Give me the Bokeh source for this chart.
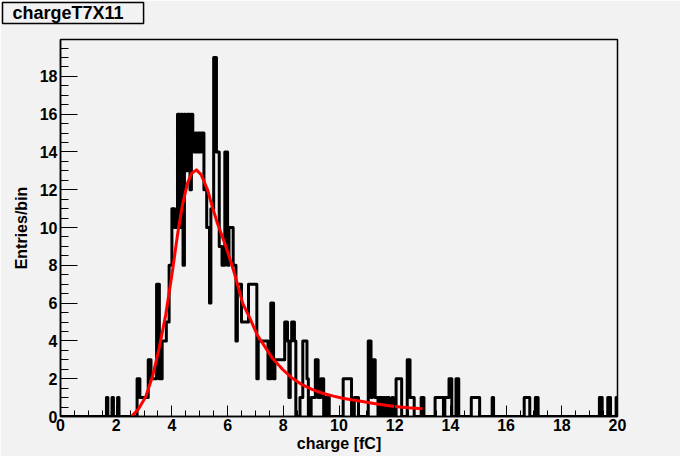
import re
import numpy as np
from bokeh.plotting import figure
from bokeh.models import Range1d, FixedTicker, Title
from bokeh.embed import file_html
from bokeh.resources import INLINE

# ---------------- data ----------------
title_text = "chargeT7X11"
x_title = "charge [fC]"
y_title = "Entries/bin"

x_lo, x_hi = 0.0, 20.0
y_lo, y_hi = 0.0, 19.95
bin_width = 0.05

# left edges of the non-empty bins and their entries (all other bins are 0)
bin_left = [
    1.65, 1.85, 2.05,
    2.75, 2.80, 2.85, 2.90, 2.95, 3.00, 3.05, 3.10, 3.15, 3.20,
    3.25, 3.30, 3.35, 3.40, 3.45, 3.50, 3.55, 3.60, 3.65, 3.70, 3.75,
    3.80, 3.85, 3.90, 3.95, 4.00, 4.05, 4.10, 4.15,
    4.20, 4.25, 4.30, 4.35, 4.40, 4.45, 4.50, 4.55, 4.60, 4.65, 4.70,
    4.75, 4.80, 4.85, 4.90, 4.95, 5.00, 5.05, 5.10,
    5.15, 5.20, 5.25, 5.30, 5.35, 5.40, 5.45, 5.50, 5.55,
    5.60, 5.65, 5.70, 5.75, 5.80, 5.85, 5.90, 5.95, 6.00,
    6.05, 6.10, 6.15, 6.20, 6.25, 6.30, 6.35, 6.40, 6.45,
    6.50, 6.55, 6.60, 6.65, 6.70, 6.75, 6.80, 6.85, 6.90, 6.95, 7.00,
    7.05, 7.10, 7.15, 7.20, 7.25, 7.30, 7.35, 7.40, 7.45, 7.50,
    7.55, 7.60, 7.65, 7.70, 7.75, 7.80, 7.85, 7.90, 7.95, 8.00,
    8.05, 8.10, 8.15, 8.20, 8.25, 8.30, 8.35, 8.40,
    8.60, 8.65, 8.70, 8.75, 8.80, 8.85,
    9.00, 9.05, 9.10, 9.15, 9.20, 9.25, 9.30, 9.35, 9.40, 9.50, 9.60,
    10.15, 10.20, 10.25, 10.30, 10.35, 10.40, 10.55, 10.60, 10.65,
    11.05, 11.10, 11.15, 11.20, 11.25, 11.30, 11.35, 11.45, 11.50,
    11.60, 11.70, 11.75, 11.90,
    12.05, 12.10, 12.15, 12.20, 12.45, 12.50, 12.55, 12.60, 12.65,
    12.95, 13.00, 13.45, 13.50, 13.55, 13.60, 13.65, 13.70,
    13.80, 13.85, 13.90, 13.95, 14.00, 14.20, 14.25,
    14.75, 14.80, 14.85, 14.90, 14.95, 15.00, 15.50,
    16.65, 16.70, 16.75, 16.80, 17.05, 17.10,
    19.35, 19.40, 19.65, 19.70, 19.95,
]
counts = [
    1, 1, 1,
    2, 2, 1, 1, 1, 1, 1, 1, 3, 3,
    2, 2, 2, 2, 7, 7, 2, 2, 4, 4, 4,
    5, 5, 8, 8, 11, 11, 10, 10,
    16, 16, 10, 16, 8, 16, 13, 16, 16, 12, 16,
    15, 14, 15, 14, 15, 14, 15, 15,
    12, 12, 10, 10, 6, 11, 11, 19, 19,
    14, 14, 9, 9, 8, 8, 14, 14, 8,
    10, 10, 10, 8, 8, 4, 7, 7, 7,
    5, 5, 5, 5, 5, 7, 7, 7, 7, 7, 7,
    2, 4, 4, 4, 4, 4, 4, 4, 2, 2,
    6, 6, 2, 3, 3, 3, 3, 3, 3, 3,
    5, 5, 4, 1, 4, 5, 5, 4,
    1, 1, 4, 4, 4, 2,
    1, 1, 1, 3, 3, 1, 1, 2, 2, 1, 1,
    2, 2, 2, 2, 2, 2, 1, 1, 1,
    4, 4, 1, 3, 3, 1, 1, 1, 1,
    1, 1, 1, 1,
    2, 2, 2, 2, 3, 3, 1, 1, 1,
    1, 1, 1, 1, 1, 1, 1, 1,
    1, 1, 1, 2, 2, 2, 2,
    1, 1, 1, 1, 1, 1, 1,
    1, 1, 1, 1, 1, 1,
    1, 1, 1, 1, 1,
]

# fitted curve
fit_x = [2.55, 2.80, 3.06, 3.30, 3.54, 3.78, 4.02, 4.20, 4.38, 4.55, 4.70, 4.88,
         5.05, 5.28, 5.45, 5.64, 5.94, 6.24, 6.54, 6.83, 7.07, 7.25, 7.60, 7.97,
         8.30, 8.69, 9.05, 9.41, 9.80, 10.13, 10.50, 10.84, 11.20, 11.56, 12.00,
         12.50, 13.00]
fit_y = [0.0, 0.4, 1.05, 2.1, 3.6, 5.4, 7.7, 9.6, 11.2, 12.3, 12.85, 13.05,
         12.8, 12.0, 11.1, 10.2, 9.0, 7.6, 6.0, 5.1, 4.3, 3.9, 3.1, 2.5,
         2.05, 1.67, 1.42, 1.23, 1.08, 0.97, 0.87, 0.79, 0.70, 0.62, 0.53,
         0.46, 0.41]

x_major = [0, 2, 4, 6, 8, 10, 12, 14, 16, 18, 20]
y_major = [0, 2, 4, 6, 8, 10, 12, 14, 16, 18]

# ---------------- build histogram outline ----------------
n_bins = int(round((x_hi - x_lo) / bin_width))
edges = np.linspace(x_lo, x_hi, n_bins + 1)
full = np.zeros(n_bins)
for lft, c in zip(bin_left, counts):
    full[int(round((lft - x_lo) / bin_width))] = c
step_x = np.repeat(edges, 2)[1:-1]
step_y = np.repeat(full, 2)

# ---------------- figure ----------------
BG = "#f2f2f2"
FONT = "Liberation Sans"

p = figure(width=680, height=456, output_backend="svg", toolbar_location=None,
           x_range=Range1d(x_lo, x_hi), y_range=Range1d(y_lo, y_hi),
           min_border_left=60, min_border_right=63, min_border_top=38,
           min_border_bottom=40)
p.background_fill_color = BG
p.border_fill_color = BG
p.outline_line_color = "black"
p.outline_line_width = 1.5
p.grid.visible = False

# boxed title, with a blank spacer title between it and the frame
p.title.text = title_text
p.title.text_font = FONT
p.title.text_font_style = "bold"
p.title.text_font_size = "18px"
p.title.text_color = "black"
p.title.align = "left"
p.title.offset = -58
p.title.standoff = 0
p.title.background_fill_color = BG
p.title.border_line_color = "black"
p.title.border_line_width = 1.5
p.title.padding = dict(left=10, right=20, top=0, bottom=1)

spacer = Title(text=" ", text_font=FONT, text_font_size="12px", standoff=0)
p.add_layout(spacer, "above")

x_minor = [i * 0.5 for i in range(0, 41)]
y_minor = [i * 0.5 for i in range(0, 40)]
p.xaxis.ticker = FixedTicker(ticks=x_major, minor_ticks=x_minor)
p.yaxis.ticker = FixedTicker(ticks=y_major, minor_ticks=y_minor)

for ax in (p.xaxis[0], p.yaxis[0]):
    ax.axis_line_color = "black"
    ax.axis_line_width = 1.5
    ax.major_tick_line_color = "black"
    ax.minor_tick_line_color = "black"
    ax.major_tick_out = 0
    ax.minor_tick_out = 0
    ax.major_label_text_font = FONT
    ax.major_label_text_font_style = "bold"
    ax.major_label_text_font_size = "16px"
    ax.major_label_text_color = "black"
    ax.axis_label_text_font = FONT
    ax.axis_label_text_font_style = "bold"
    ax.axis_label_text_font_size = "16px"
    ax.axis_label_text_color = "black"

p.xaxis.major_tick_in = 11
p.xaxis.minor_tick_in = 6
p.yaxis.major_tick_in = 17
p.yaxis.minor_tick_in = 8
p.xaxis.major_label_standoff = 2
p.yaxis.major_label_standoff = 3
p.xaxis.axis_label = x_title
p.yaxis.axis_label = y_title
p.xaxis.axis_label_standoff = 1
p.yaxis.axis_label_standoff = 7

p.line(step_x, step_y, line_color="black", line_width=3, line_join="round")
p.line(fit_x, fit_y, line_color="#ff0000", line_width=3, line_join="round")

html = file_html(p, INLINE)
html = re.sub(r"<body([^>]*)>", r'<body\1 style="background-color:#f2f2f2;">', html, count=1)
open("out.html", "w").write(html)
